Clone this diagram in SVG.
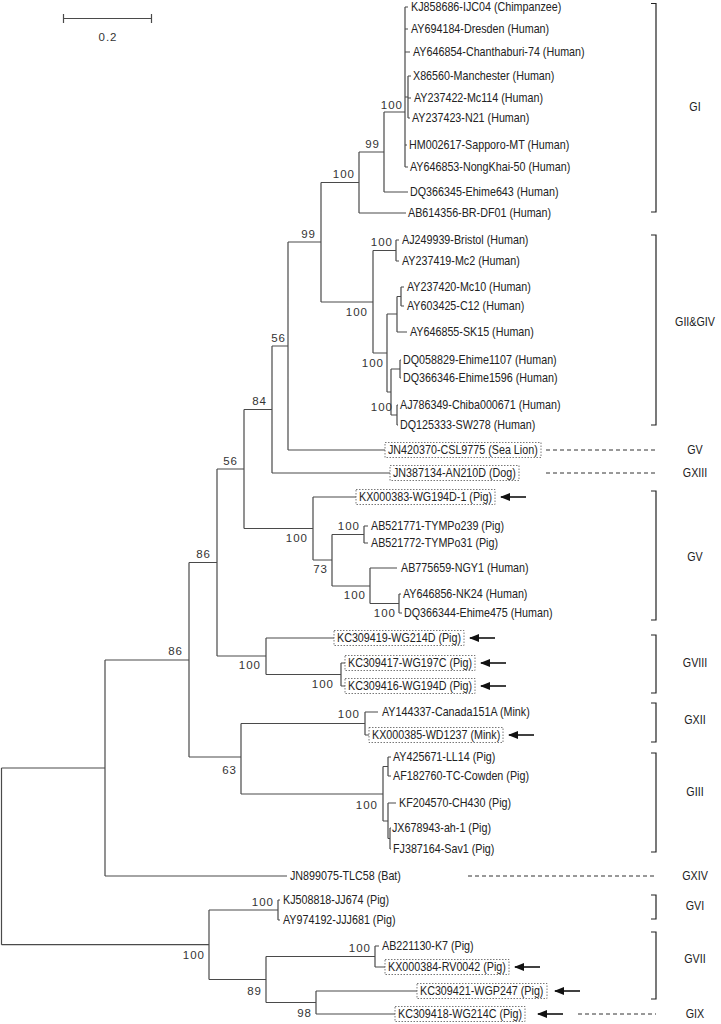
<svg xmlns="http://www.w3.org/2000/svg" width="721" height="1024" viewBox="0 0 721 1024">
<style>
.t{font-family:"Liberation Sans",Arial,sans-serif;font-size:12.2px;fill:#222}
.b{font-family:"Liberation Sans",Arial,sans-serif;font-size:11.5px;letter-spacing:1px;fill:#333;text-anchor:end}
.g{font-family:"Liberation Sans",Arial,sans-serif;font-size:12.2px;fill:#222;text-anchor:middle}
.e{fill:none;stroke:#4a4a4a;stroke-width:1.2}
.box{fill:none;stroke:#555;stroke-width:0.8;stroke-dasharray:1.5 1.5}
.dash{fill:none;stroke:#333;stroke-width:1;stroke-dasharray:4 3}
.arr{fill:none;stroke:#111;stroke-width:1.6}
.brk{fill:none;stroke:#222;stroke-width:1.2}
</style>
<defs>
<marker id="ah" markerUnits="userSpaceOnUse" markerWidth="10" markerHeight="8" viewBox="0 0 10 8" refX="9" refY="4" orient="auto"><path d="M0,0 L10,4 L0,8 z" fill="#111"/></marker>
</defs>
<rect width="721" height="1024" fill="#fff"/>

<g id="scale-bar">
<path class="e" d="M63,18.5 H152 M63.5,14 V23 M151.5,14 V23"/>
<text class="b" x="108" y="41" style="text-anchor:middle">0.2</text>
</g>

<g id="connectors">
<path class="e" d="M1.5,768 V944.7 M1.5,768 H105 M1.5,944.7 H209
M105,660 V876 M105,660 H189 M105,876 H287
M189,562.5 V757 M189,562.5 H217 M189,757 H241
M217,469 V656 M217,469 H244 M217,656 H266
M244,409.5 V528.5 M244,409.5 H272 M244,528.5 H313
M272,346 V473 M272,346 H288 M272,473 H390
M288,242 V450 M288,242 H321 M288,450 H385
M321,182.5 V302 M321,182.5 H359 M321,302 H373
M359,152 V213 M359,152 H384 M359,213 H406
M384,112 V192 M384,112 H405 M384,192 H408
M405,7 V167 M405,7 H408 M405,29 H408 M405,52 H410 M405,97 H408 M405,145 H407 M405,167 H408
M408,76 V118 M408,76 H411 M408,98 H411 M408,118 H410
M373,250.5 V353 M373,250.5 H396 M373,353 H387
M396,240 V261 M396,240 H399 M396,261 H399
M387,314 V392 M387,314 H397 M387,392 H391
M397,296.5 V332 M397,296.5 H401 M397,332 H407
M401,287 V306 M401,287 H404 M401,306 H404
M391,369 V415 M391,369 H400 M391,415 H397
M400,360 V378 M400,360 H401 M400,378 H401
M397,405 V425 M397,405 H398 M397,425 H398
M313,497 V560 M313,497 H356 M313,560 H332
M332,534.5 V586 M332,534.5 H364 M332,586 H370
M364,526 V543 M364,526 H368 M364,543 H368
M370,568 V603.5 M370,568 H397 M370,603.5 H399
M399,594 V613 M399,594 H401 M399,613 H402
M266,638 V674.5 M266,638 H334 M266,674.5 H341
M341,663 V686 M341,663 H345 M341,686 H345
M241,723.5 V794 M241,723.5 H365 M241,794 H383
M365,712 V735 M365,712 H378 M365,735 H369
M383,766.5 V821 M383,766.5 H388 M383,821 H388
M388,757 V776 M388,757 H391 M388,776 H391
M388,803 V838.5 M388,803 H396 M388,838.5 H390
M390,828 V849 M390,828 H391 M390,849 H391
M209,910 V979.5 M209,910 H278 M209,979.5 H266
M278,900 V920 M278,900 H280 M278,920 H280
M266,956.5 V1002.5 M266,956.5 H375 M266,1002.5 H316
M375,946 V967 M375,946 H379 M375,967 H385
M316,991 V1014 M316,991 H417 M316,1014 H395"/>
</g>

<g id="bootstrap">
<text class="b" x="403" y="109">100</text>
<text class="b" x="380" y="148">99</text>
<text class="b" x="355" y="178">100</text>
<text class="b" x="316" y="238">99</text>
<text class="b" x="393" y="246">100</text>
<text class="b" x="368" y="316">100</text>
<text class="b" x="384" y="367">100</text>
<text class="b" x="393" y="411">100</text>
<text class="b" x="286" y="342">56</text>
<text class="b" x="267" y="405">84</text>
<text class="b" x="238" y="465">56</text>
<text class="b" x="211" y="558">86</text>
<text class="b" x="183" y="655">86</text>
<text class="b" x="308" y="542">100</text>
<text class="b" x="360" y="530">100</text>
<text class="b" x="328" y="573">73</text>
<text class="b" x="366" y="599">100</text>
<text class="b" x="396" y="617">100</text>
<text class="b" x="261" y="669">100</text>
<text class="b" x="334" y="688">100</text>
<text class="b" x="360" y="718">100</text>
<text class="b" x="237" y="774">63</text>
<text class="b" x="378" y="809">100</text>
<text class="b" x="205" y="959">100</text>
<text class="b" x="274" y="906">100</text>
<text class="b" x="371" y="952">100</text>
<text class="b" x="262" y="995">89</text>
<text class="b" x="312" y="1017">98</text>
</g>

<g id="taxa">
<text class="t" transform="translate(411 11.3) scale(.88 1)">KJ858686-IJC04 (Chimpanzee)</text>
<text class="t" transform="translate(411 33.3) scale(.88 1)">AY694184-Dresden (Human)</text>
<text class="t" transform="translate(413 56.3) scale(.88 1)">AY646854-Chanthaburi-74 (Human)</text>
<text class="t" transform="translate(413 80.3) scale(.88 1)">X86560-Manchester (Human)</text>
<text class="t" transform="translate(414 102.3) scale(.88 1)">AY237422-Mc114 (Human)</text>
<text class="t" transform="translate(412 122.3) scale(.88 1)">AY237423-N21 (Human)</text>
<text class="t" transform="translate(409 149.3) scale(.88 1)">HM002617-Sapporo-MT (Human)</text>
<text class="t" transform="translate(410 171.3) scale(.88 1)">AY646853-NongKhai-50 (Human)</text>
<text class="t" transform="translate(410 196.3) scale(.88 1)">DQ366345-Ehime643 (Human)</text>
<text class="t" transform="translate(408 217.3) scale(.88 1)">AB614356-BR-DF01 (Human)</text>
<text class="t" transform="translate(402 244.3) scale(.88 1)">AJ249939-Bristol (Human)</text>
<text class="t" transform="translate(402 265.3) scale(.88 1)">AY237419-Mc2 (Human)</text>
<text class="t" transform="translate(407 291.3) scale(.88 1)">AY237420-Mc10 (Human)</text>
<text class="t" transform="translate(407 310.3) scale(.88 1)">AY603425-C12 (Human)</text>
<text class="t" transform="translate(410 336.3) scale(.88 1)">AY646855-SK15 (Human)</text>
<text class="t" transform="translate(403 364.3) scale(.88 1)">DQ058829-Ehime1107 (Human)</text>
<text class="t" transform="translate(403 382.3) scale(.88 1)">DQ366346-Ehime1596 (Human)</text>
<text class="t" transform="translate(400 409.3) scale(.88 1)">AJ786349-Chiba000671 (Human)</text>
<text class="t" transform="translate(400 429.3) scale(.88 1)">DQ125333-SW278 (Human)</text>
<text class="t" transform="translate(388 454.3) scale(.88 1)">JN420370-CSL9775 (Sea Lion)</text>
<text class="t" transform="translate(393 477.3) scale(.88 1)">JN387134-AN210D (Dog)</text>
<text class="t" transform="translate(359 501.3) scale(.88 1)">KX000383-WG194D-1 (Pig)</text>
<text class="t" transform="translate(371 530.3) scale(.88 1)">AB521771-TYMPo239 (Pig)</text>
<text class="t" transform="translate(371 547.3) scale(.88 1)">AB521772-TYMPo31 (Pig)</text>
<text class="t" transform="translate(401 572.3) scale(.88 1)">AB775659-NGY1 (Human)</text>
<text class="t" transform="translate(403 598.3) scale(.88 1)">AY646856-NK24 (Human)</text>
<text class="t" transform="translate(404 617.3) scale(.88 1)">DQ366344-Ehime475 (Human)</text>
<text class="t" transform="translate(337 642.3) scale(.88 1)">KC309419-WG214D (Pig)</text>
<text class="t" transform="translate(348 667.3) scale(.88 1)">KC309417-WG197C (Pig)</text>
<text class="t" transform="translate(348 690.3) scale(.88 1)">KC309416-WG194D (Pig)</text>
<text class="t" transform="translate(382 716.3) scale(.88 1)">AY144337-Canada151A (Mink)</text>
<text class="t" transform="translate(372 739.3) scale(.88 1)">KX000385-WD1237 (Mink)</text>
<text class="t" transform="translate(393 761.3) scale(.88 1)">AY425671-LL14 (Pig)</text>
<text class="t" transform="translate(393 780.3) scale(.88 1)">AF182760-TC-Cowden (Pig)</text>
<text class="t" transform="translate(399 807.3) scale(.88 1)">KF204570-CH430 (Pig)</text>
<text class="t" transform="translate(392 832.3) scale(.88 1)">JX678943-ah-1 (Pig)</text>
<text class="t" transform="translate(393 853.3) scale(.88 1)">FJ387164-Sav1 (Pig)</text>
<text class="t" transform="translate(290 880.3) scale(.88 1)">JN899075-TLC58 (Bat)</text>
<text class="t" transform="translate(283 904.3) scale(.88 1)">KJ508818-JJ674 (Pig)</text>
<text class="t" transform="translate(283 924.3) scale(.88 1)">AY974192-JJJ681 (Pig)</text>
<text class="t" transform="translate(382 950.3) scale(.88 1)">AB221130-K7 (Pig)</text>
<text class="t" transform="translate(388 971.3) scale(.88 1)">KX000384-RV0042 (Pig)</text>
<text class="t" transform="translate(420 995.3) scale(.88 1)">KC309421-WGP247 (Pig)</text>
<text class="t" transform="translate(398 1018.3) scale(.88 1)">KC309418-WG214C (Pig)</text>
</g>

<g id="highlight-boxes">
<rect class="box" x="385" y="442.5" width="156" height="15"/>
<rect class="box" x="390" y="465.5" width="129" height="15"/>
<rect class="box" x="356" y="489.5" width="139" height="15"/>
<rect class="box" x="334" y="630.5" width="130" height="15"/>
<rect class="box" x="345" y="655.5" width="130" height="15"/>
<rect class="box" x="345" y="678.5" width="130" height="15"/>
<rect class="box" x="369" y="727.5" width="134" height="15"/>
<rect class="box" x="385" y="959.5" width="124" height="15"/>
<rect class="box" x="417" y="983.5" width="130" height="15"/>
<rect class="box" x="395" y="1006.5" width="130" height="15"/>
</g>

<g id="arrows">
<path class="arr" marker-end="url(#ah)" d="M526,497 H501"/>
<path class="arr" marker-end="url(#ah)" d="M495,638 H470"/>
<path class="arr" marker-end="url(#ah)" d="M506,663 H481"/>
<path class="arr" marker-end="url(#ah)" d="M506,686 H481"/>
<path class="arr" marker-end="url(#ah)" d="M534,735 H509"/>
<path class="arr" marker-end="url(#ah)" d="M540,967 H515"/>
<path class="arr" marker-end="url(#ah)" d="M580,991 H555"/>
<path class="arr" marker-end="url(#ah)" d="M563,1014 H538"/>
</g>

<g id="dashed-leaders">
<path class="dash" d="M546,450 H656 M546,473 H656 M468,876 H656 M578,1014 H656"/>
</g>

<g id="clade-brackets">
<path class="brk" d="M651,3.5 H656 V212 H651"/>
<path class="brk" d="M651,235 H656 V425 H651"/>
<path class="brk" d="M651,491 H656 V620 H651"/>
<path class="brk" d="M651,635 H656 V693 H651"/>
<path class="brk" d="M651,703 H656 V742 H651"/>
<path class="brk" d="M651,753 H656 V852 H651"/>
<path class="brk" d="M651,895 H656 V919 H651"/>
<path class="brk" d="M651,932 H656 V999 H651"/>
</g>

<g id="clade-labels">
<text class="g" transform="translate(695 111.3) scale(.88 1)">GI</text>
<text class="g" transform="translate(695 326.3) scale(.88 1)">GII&amp;GIV</text>
<text class="g" transform="translate(695 454.3) scale(.88 1)">GV</text>
<text class="g" transform="translate(695 477.3) scale(.88 1)">GXIII</text>
<text class="g" transform="translate(695 561.3) scale(.88 1)">GV</text>
<text class="g" transform="translate(695 667.3) scale(.88 1)">GVIII</text>
<text class="g" transform="translate(695 724.3) scale(.88 1)">GXII</text>
<text class="g" transform="translate(695 796.3) scale(.88 1)">GIII</text>
<text class="g" transform="translate(695 880.3) scale(.88 1)">GXIV</text>
<text class="g" transform="translate(695 910.3) scale(.88 1)">GVI</text>
<text class="g" transform="translate(695 963.3) scale(.88 1)">GVII</text>
<text class="g" transform="translate(695 1018.3) scale(.88 1)">GIX</text>
</g>
</svg>
